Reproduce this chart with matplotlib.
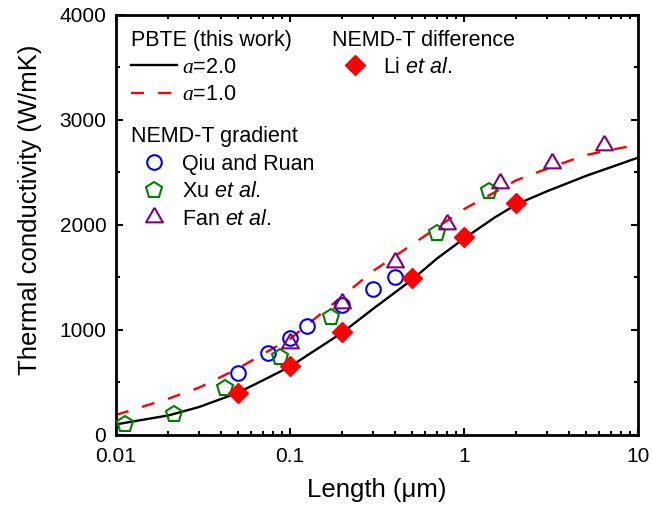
import matplotlib
matplotlib.use('Agg')
import matplotlib.pyplot as plt
from matplotlib.lines import Line2D

plt.rcParams['font.family'] = ['Liberation Sans', 'DejaVu Sans']
plt.rcParams['mathtext.fontset'] = 'custom'
plt.rcParams['mathtext.rm'] = 'Liberation Sans'
plt.rcParams['mathtext.it'] = 'Liberation Sans:italic'
plt.rcParams['mathtext.cal'] = 'Liberation Serif:italic'

# ---------------- data ----------------
# PBTE (this work)
L_pbte = [0.01, 0.02, 0.03, 0.05, 0.07, 0.1, 0.2, 0.3, 0.5, 0.7, 1, 1.5, 2, 3, 5, 10]
k_a2 = [100, 185, 265, 400, 520, 650, 975, 1200, 1475, 1680, 1870, 2070, 2195, 2320, 2465, 2640]
k_a1 = [190, 345, 450, 630, 770, 915, 1320, 1560, 1810, 1975, 2150, 2310, 2425, 2535, 2665, 2765]

# NEMD-T gradient
L_qiu = [0.05, 0.075, 0.1, 0.125, 0.2, 0.3, 0.4]
k_qiu = [590, 775, 925, 1035, 1240, 1390, 1500]
L_xu = [0.0113, 0.0214, 0.0425, 0.0875, 0.172, 0.695, 1.385]
k_xu = [105, 200, 450, 745, 1125, 1920, 2320]
L_fan = [0.1, 0.2, 0.4, 0.8, 1.6, 3.2, 6.4]
k_fan = [875, 1255, 1650, 2010, 2400, 2585, 2760]

# NEMD-T difference
L_li = [0.05, 0.1, 0.2, 0.5, 1, 2]
k_li = [400, 655, 980, 1495, 1880, 2205]

tri = [(0, 1), (-0.866, -0.5), (0.866, -0.5), (0, 1)]

st_qiu = dict(ls='none', marker='o', ms=10.5, mfc='none', mec='blue', mew=1.5)
st_xu = dict(ls='none', marker='p', ms=12, mfc='none', mec='green', mew=1.5)
st_fan = dict(ls='none', marker=tri, ms=14, mfc='none', mec='purple', mew=1.5)
st_li = dict(ls='none', marker='D', ms=10, mfc='red', mec='red')

# ---------------- figure ----------------
fig = plt.figure(figsize=(6.52, 5.14), dpi=100)
ax = fig.add_axes([0.178, 0.154, 0.8006, 0.8171])

ax.plot(L_pbte, k_a2, color='black', lw=1.7, zorder=2)
ax.plot(L_pbte, k_a1, color='red', lw=1.7, dashes=(5.5, 6), zorder=2)

ax.plot(L_qiu, k_qiu, zorder=3, **st_qiu)
ax.plot(L_xu, k_xu, zorder=3, **st_xu)
ax.plot(L_fan, k_fan, zorder=3, **st_fan)
ax.plot(L_li, k_li, zorder=4, **st_li)

ax.set_xscale('log')
ax.set_xlim(0.01, 10)
ax.set_ylim(0, 4000)
ax.set_xticks([0.01, 0.1, 1, 10])
ax.set_xticklabels(['0.01', '0.1', '1', '10'])
ax.set_yticks([0, 1000, 2000, 3000, 4000])
ax.set_yticks([500, 1500, 2500, 3500], minor=True)

for s in ax.spines.values():
    s.set_linewidth(2)
ax.tick_params(which='both', direction='in', top=True, right=True, labelsize=15, width=1.5)
ax.tick_params(which='major', length=5)
ax.tick_params(which='minor', length=3)
ax.tick_params(axis='x', which='major', pad=8.5)
ax.tick_params(axis='y', which='major', pad=7)

ax.set_xlabel('Length (\u03bcm)', fontsize=18.5)
ax.set_ylabel('Thermal conductivity (W/mK)', fontsize=18.5)
ax.xaxis.set_label_coords(0.5, -0.102)
ax.yaxis.set_label_coords(-0.141, 0.537)

# ---------------- legends ----------------
leg_kw = dict(loc='upper left', frameon=False, fontsize=15.5, title_fontsize=15.5,
              alignment='left', borderpad=0, borderaxespad=0, handlelength=2.14,
              handletextpad=0.23, labelspacing=0.3)

h_pbte = [Line2D([], [], color='black', lw=1.7),
          Line2D([], [], color='red', lw=1.7, dashes=(5.5, 6))]
leg1 = ax.legend(h_pbte, [r'$\mathcal{a}$=2.0', r'$\mathcal{a}$=1.0'],
                 title='PBTE (this work)', bbox_to_anchor=(0.0287, 0.965), **leg_kw)
ax.add_artist(leg1)

h_grad = [Line2D([], [], **st_qiu), Line2D([], [], **st_xu), Line2D([], [], **st_fan)]
leg2 = ax.legend(h_grad, ['Qiu and Ruan', r'Xu $\mathit{et\ al.}$', r'Fan $\mathit{et\ al.}$'],
                 title='NEMD-T gradient', bbox_to_anchor=(0.0287, 0.735), **leg_kw)
ax.add_artist(leg2)

h_diff = [Line2D([], [], **st_li)]
leg3 = ax.legend(h_diff, [r'Li $\mathit{et\ al.}$'],
                 title='NEMD-T difference', bbox_to_anchor=(0.414, 0.965), **leg_kw)

fig.savefig('out.png', dpi=100)
